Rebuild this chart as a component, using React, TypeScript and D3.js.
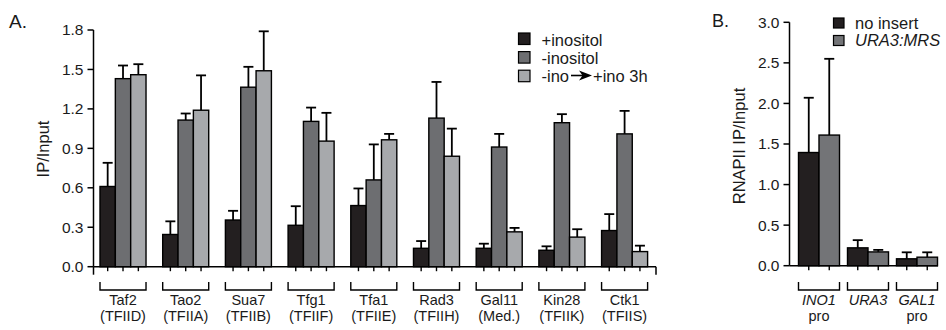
import React from 'react'
import * as d3 from 'd3'

// panel A
const factors = ['Taf2', 'Tao2', 'Sua7', 'Tfg1', 'Tfa1', 'Rad3', 'Gal11', 'Kin28', 'Ctk1']
const complexes = ['(TFIID)', '(TFIIA)', '(TFIIB)', '(TFIIF)', '(TFIIE)', '(TFIIH)', '(Med.)', '(TFIIK)', '(TFIIS)']
const plusIno = [0.61, 0.245, 0.355, 0.315, 0.465, 0.14, 0.14, 0.125, 0.275]
const plusInoErr = [0.18, 0.1, 0.07, 0.145, 0.13, 0.055, 0.035, 0.03, 0.125]
const minusIno = [1.43, 1.115, 1.365, 1.105, 0.66, 1.13, 0.91, 1.095, 1.01]
const minusInoErr = [0.1, 0.05, 0.155, 0.105, 0.27, 0.275, 0.1, 0.065, 0.175]
const shift3h = [1.46, 1.19, 1.49, 0.955, 0.965, 0.84, 0.265, 0.225, 0.115]
const shift3hErr = [0.08, 0.265, 0.3, 0.215, 0.045, 0.21, 0.03, 0.06, 0.045]
const ticksA = [0, 0.3, 0.6, 0.9, 1.2, 1.5, 1.8]

// panel B
const loci = ['INO1', 'URA3', 'GAL1']
const lociSub = ['pro', '', 'pro']
const noInsert = [1.395, 0.22, 0.085]
const noInsertErr = [0.675, 0.095, 0.08]
const ura3Mrs = [1.61, 0.17, 0.105]
const ura3MrsErr = [0.94, 0.025, 0.06]
const ticksB = [0, 0.5, 1, 1.5, 2, 2.5, 3]

const FONT = 'Liberation Sans, Arial, Helvetica, sans-serif'
const colA = ['#231f20', '#6d6e71', '#a7a9ac']
const colB = ['#231f20', '#737477']

const seriesA = [
  { vals: plusIno, err: plusInoErr },
  { vals: minusIno, err: minusInoErr },
  { vals: shift3h, err: shift3hErr },
]
const seriesB = [
  { vals: noInsert, err: noInsertErr },
  { vals: ura3Mrs, err: ura3MrsErr },
]

const yA = d3.scaleLinear().domain([0, 1.8]).range([266.7, 30])
const xA = d3.scaleBand().domain(factors).range([100, 647.6]).paddingInner(0.266)
const subXA = d3.scaleBand().domain(['0', '1', '2']).range([0, xA.bandwidth()])

const yB = d3.scaleLinear().domain([0, 3]).range([265.7, 22.3])
const xB = d3.scaleBand().domain(loci).range([798.5, 937.5]).paddingInner(0.163)
const subXB = d3.scaleBand().domain(['0', '1']).range([0, xB.bandwidth()])

function Bars({ groups, series, x, sub, y, colors }) {
  const y0 = y(0)
  return (
    <g>
      {series.map((s, si) =>
        groups.map((g, gi) => {
          const bx = x(g) + sub(String(si))
          const w = sub.bandwidth()
          const top = y(s.vals[gi])
          const et = y(s.vals[gi] + s.err[gi])
          const cx = bx + w / 2
          return (
            <g key={g + si}>
              <line x1={cx} x2={cx} y1={top} y2={et} stroke="#000" strokeWidth={1.8} />
              <line x1={cx - 5} x2={cx + 5} y1={et} y2={et} stroke="#000" strokeWidth={1.8} />
              <rect x={bx} y={top} width={w} height={y0 - top} fill={colors[si]} stroke="#000" strokeWidth={1.4} />
              <line x1={cx} x2={cx} y1={y0} y2={y0 + 4.5} stroke="#000" strokeWidth={1.4} />
            </g>
          )
        })
      )}
    </g>
  )
}

function YAxis({ y, ticks, x0, fmt }) {
  const [r0, r1] = y.range()
  return (
    <g fontFamily={FONT} fontSize={15.5}>
      <line x1={x0} x2={x0} y1={r0} y2={r1} stroke="#000" strokeWidth={1.5} />
      {ticks.map((t) => (
        <g key={t}>
          <line x1={x0 - 6} x2={x0} y1={y(t)} y2={y(t)} stroke="#000" strokeWidth={1.5} />
          <text x={x0 - 10} y={y(t)} dy="0.35em" textAnchor="end" fill="#1a1a1a">
            {fmt(t)}
          </text>
        </g>
      ))}
    </g>
  )
}

function Brackets({ groups, x, labels, subs, italic }) {
  return (
    <g fontFamily={FONT} fontSize={14.5} fill="#1a1a1a">
      {groups.map((g, i) => {
        const l = x(g)
        const r = l + x.bandwidth()
        const c = (l + r) / 2
        return (
          <g key={g}>
            <path d={`M${l},282 V290 H${r} V282`} fill="none" stroke="#000" strokeWidth={1.4} />
            <text x={c} y={304.5} textAnchor="middle" fontStyle={italic ? 'italic' : 'normal'}>
              {labels[i]}
            </text>
            {subs[i] && (
              <text x={c} y={320.5} textAnchor="middle">
                {subs[i]}
              </text>
            )}
          </g>
        )
      })}
    </g>
  )
}

export default function App() {
  const fmtA = d3.format('.1f')
  return (
    <svg width={946} height={330} style={{ position: 'absolute', left: 0, top: 0, background: '#fff' }}>
      <rect width={946} height={330} fill="#fff" />
      {/* panel A */}
      <text x={9} y={28} fontFamily={FONT} fontSize={19} fill="#1a1a1a">A.</text>
      <text transform="translate(48.5,149) rotate(-90)" textAnchor="middle" fontFamily={FONT} fontSize={16.5} fill="#1a1a1a">
        IP/Input
      </text>
      <YAxis y={yA} ticks={ticksA} x0={93.5} fmt={fmtA} />
      <Bars groups={factors} series={seriesA} x={xA} sub={subXA} y={yA} colors={colA} />
      <line x1={93.5} x2={656} y1={yA(0)} y2={yA(0)} stroke="#000" strokeWidth={1.5} />
      <line x1={93.5} x2={93.5} y1={yA(0)} y2={yA(0) + 8} stroke="#000" strokeWidth={1.5} />
      <line x1={656} x2={656} y1={yA(0)} y2={yA(0) + 8} stroke="#000" strokeWidth={1.5} />
      <Brackets groups={factors} x={xA} labels={factors} subs={complexes} italic={false} />

      {/* legend A */}
      <g fontFamily={FONT} fontSize={16.5} fill="#1a1a1a">
        {['+inositol', '-inositol'].map((t, i) => (
          <g key={t}>
            <rect x={518.5} y={33 + i * 18.6} width={11.5} height={11.5} fill={colA[i]} stroke="#000" strokeWidth={1.2} />
            <text x={541.5} y={45.5 + i * 18.2}>{t}</text>
          </g>
        ))}
        <rect x={518.5} y={70.2} width={11.5} height={11.5} fill={colA[2]} stroke="#000" strokeWidth={1.2} />
        <text x={541.5} y={82}>-ino</text>
        <line x1={571} x2={584} y1={75.5} y2={75.5} stroke="#000" strokeWidth={1.6} />
        <path d="M579,70.5 L592,75.5 L579,80.5 L582.5,75.5 Z" fill="#000" />
        <text x={593} y={82}>+ino 3h</text>
      </g>

      {/* panel B */}
      <text x={712} y={27} fontFamily={FONT} fontSize={18} fill="#1a1a1a">B.</text>
      <text transform="translate(744.5,146) rotate(-90)" textAnchor="middle" fontFamily={FONT} fontSize={16.5} fill="#1a1a1a">
        RNAPII IP/Input
      </text>
      <YAxis y={yB} ticks={ticksB} x0={789.5} fmt={fmtA} />
      <Bars groups={loci} series={seriesB} x={xB} sub={subXB} y={yB} colors={colB} />
      <line x1={789.5} x2={938} y1={yB(0)} y2={yB(0)} stroke="#000" strokeWidth={1.5} />
      <Brackets groups={loci} x={xB} labels={loci} subs={lociSub} italic={true} />

      {/* legend B */}
      <g fontFamily={FONT} fontSize={16.5} fill="#1a1a1a">
        <rect x={833.5} y={18} width={10.5} height={10} fill={colB[0]} stroke="#000" strokeWidth={1.2} />
        <text x={855} y={28.5}>no insert</text>
        <rect x={833.5} y={35.5} width={10.5} height={10} fill={colB[1]} stroke="#000" strokeWidth={1.2} />
        <text x={855} y={45.5} fontStyle="italic">URA3:MRS</text>
      </g>
    </svg>
  )
}
